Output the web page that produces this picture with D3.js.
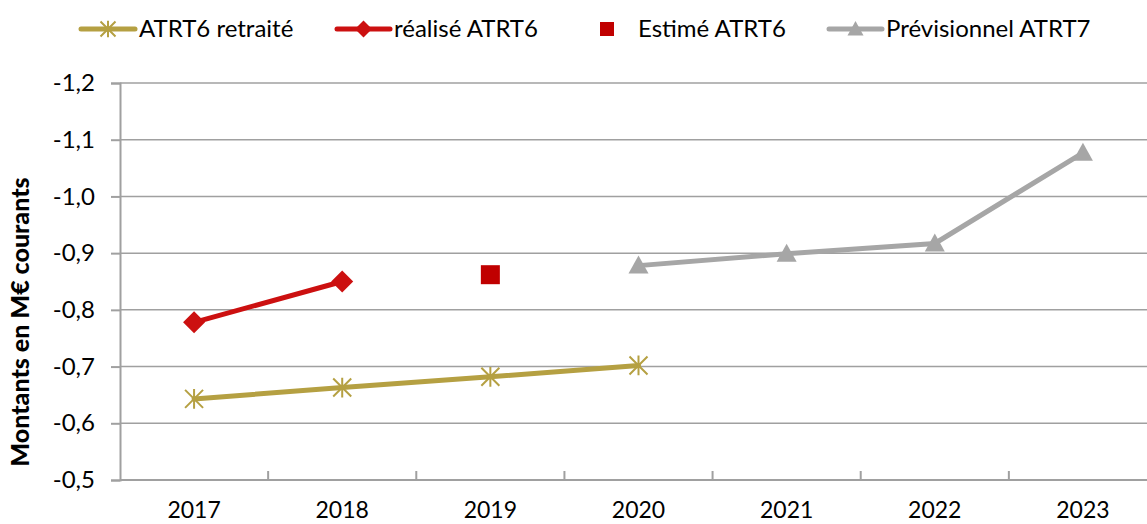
<!DOCTYPE html>
<html lang="fr">
<head>
<meta charset="utf-8">
<title>ATRT6 / ATRT7</title>
<script src="https://d3js.org/d3.v7.min.js"></script>
<style>
  body { margin: 0; background: #fff; }
  svg text { font-family: Lato, "Open Sans", sans-serif; fill: #000; }
</style>
</head>
<body>
<svg id="chart" width="1147" height="524"></svg>
<script>
// categories and series (M€ courants)
var years = ["2017", "2018", "2019", "2020", "2021", "2022", "2023"];
var yTicks = [-0.5, -0.6, -0.7, -0.8, -0.9, -1.0, -1.1, -1.2];

var retraiteYears = ["2017", "2018", "2019", "2020"];
var retraiteVals  = [-0.643, -0.663, -0.682, -0.702];

var realiseYears = ["2017", "2018"];
var realiseVals  = [-0.778, -0.850];

var estimeYears = ["2019"];
var estimeVals  = [-0.862];

var previsYears = ["2020", "2021", "2022", "2023"];
var previsVals  = [-0.878, -0.899, -0.917, -1.077];

var gold = "#B5A042", red = "#CC1010", darkRed = "#C00000", grey = "#A6A6A6";

var svg = d3.select("#chart");

var x = d3.scaleBand().domain(years).range([120, 1157]);
var y = d3.scaleLinear().domain([-0.5, -1.2]).range([480, 83]);
var cx = function(d) { return x(d) + x.bandwidth() / 2; };

// gridlines
svg.append("g").selectAll("line").data(yTicks.slice(1)).enter().append("line")
  .attr("x1", 120).attr("x2", 1147)
  .attr("y1", function(d) { return y(d); }).attr("y2", function(d) { return y(d); })
  .attr("stroke", "#A0A0A0").attr("stroke-width", 1.5);

// y axis
var yAxis = d3.axisLeft(y).tickValues(yTicks).tickSize(9).tickPadding(16)
  .tickFormat(function(d) { return d3.format(".1f")(d).replace(".", ",").replace("−", "-"); });
var gy = svg.append("g").attr("transform", "translate(120,0)").call(yAxis);
gy.select(".domain").attr("stroke", "#A0A0A0").attr("stroke-width", 2);
gy.selectAll(".tick line").attr("stroke", "#A0A0A0").attr("stroke-width", 2);
gy.selectAll("text").style("font-size", "24px").attr("fill", "#000");

// x axis with ticks between categories, inward
var gx = svg.append("g").attr("transform", "translate(0,480)");
gx.append("line").attr("x1", 120).attr("x2", 1147).attr("stroke", "#A0A0A0").attr("stroke-width", 2);
gx.selectAll(".xt").data(years.slice(1)).enter().append("line")
  .attr("x1", function(d) { return x(d); }).attr("x2", function(d) { return x(d); })
  .attr("y1", 0).attr("y2", -9).attr("stroke", "#A0A0A0").attr("stroke-width", 2);
gx.selectAll(".xl").data(years).enter().append("text")
  .attr("x", cx).attr("y", 38).attr("text-anchor", "middle")
  .style("font-size", "23px").text(function(d) { return d; });

// y title
svg.append("text").attr("transform", "translate(29,322) rotate(-90)")
  .attr("text-anchor", "middle").style("font-size", "25px").style("font-weight", "900")
  .text("Montants en M€ courants");

// markers
function star(g, px, py, s, col) {
  var h = s / 2;
  g.append("path")
    .attr("d", "M" + (px - h) + "," + (py - h) + "L" + (px + h) + "," + (py + h) +
               "M" + (px - h) + "," + (py + h) + "L" + (px + h) + "," + (py - h) +
               "M" + px + "," + (py - h * 1.1) + "L" + px + "," + (py + h * 1.1))
    .attr("stroke", col).attr("stroke-width", 2).attr("fill", "none");
}
function diamond(g, px, py, s, col) {
  var h = s / 2;
  g.append("path").attr("d", "M" + px + "," + (py - h) + "L" + (px + h) + "," + py +
    "L" + px + "," + (py + h) + "L" + (px - h) + "," + py + "Z").attr("fill", col);
}
function triangle(g, px, py, s, col) {
  var h = s / 2;
  g.append("path").attr("d", "M" + px + "," + (py - h) + "L" + (px + h) + "," + (py + h * 0.8) +
    "L" + (px - h) + "," + (py + h * 0.8) + "Z").attr("fill", col);
}

var line = d3.line().x(function(d) { return cx(d[0]); }).y(function(d) { return y(d[1]); });
var plot = svg.append("g");

function series(ys, vs, col, marker, size) {
  var pts = d3.zip(ys, vs);
  plot.append("path").datum(pts).attr("d", line).attr("fill", "none")
    .attr("stroke", col).attr("stroke-width", 5).attr("stroke-linecap", "round");
  pts.forEach(function(p) { marker(plot, cx(p[0]), y(p[1]), size, col); });
}
series(retraiteYears, retraiteVals, gold, star, 18);
series(realiseYears, realiseVals, red, diamond, 22);
series(previsYears, previsVals, grey, triangle, 20);
d3.zip(estimeYears, estimeVals).forEach(function(p) {
  plot.append("rect").attr("x", cx(p[0]) - 9.5).attr("y", y(p[1]) - 9.5)
    .attr("width", 19).attr("height", 19).attr("fill", darkRed);
});

// legend
var leg = svg.append("g");
var ly = 29;
function legLine(x0, x1, col, marker, size, label) {
  leg.append("line").attr("x1", x0).attr("x2", x1).attr("y1", ly).attr("y2", ly)
    .attr("stroke", col).attr("stroke-width", 5).attr("stroke-linecap", "round");
  marker(leg, (x0 + x1) / 2, ly, size, col);
  leg.append("text").attr("x", x1 + 4).attr("y", ly).attr("dy", "0.35em")
    .style("font-size", "24px").text(label);
}
legLine(81, 135, gold, star, 15, "ATRT6 retraité");
legLine(337, 390, red, diamond, 17, "réalisé ATRT6");
leg.append("rect").attr("x", 600).attr("y", ly - 7).attr("width", 14).attr("height", 14).attr("fill", darkRed);
leg.append("text").attr("x", 638).attr("y", ly).attr("dy", "0.35em").style("font-size", "24px").text("Estimé ATRT6");
legLine(829, 882, grey, triangle, 16, "Prévisionnel ATRT7");
</script>
</body>
</html>
